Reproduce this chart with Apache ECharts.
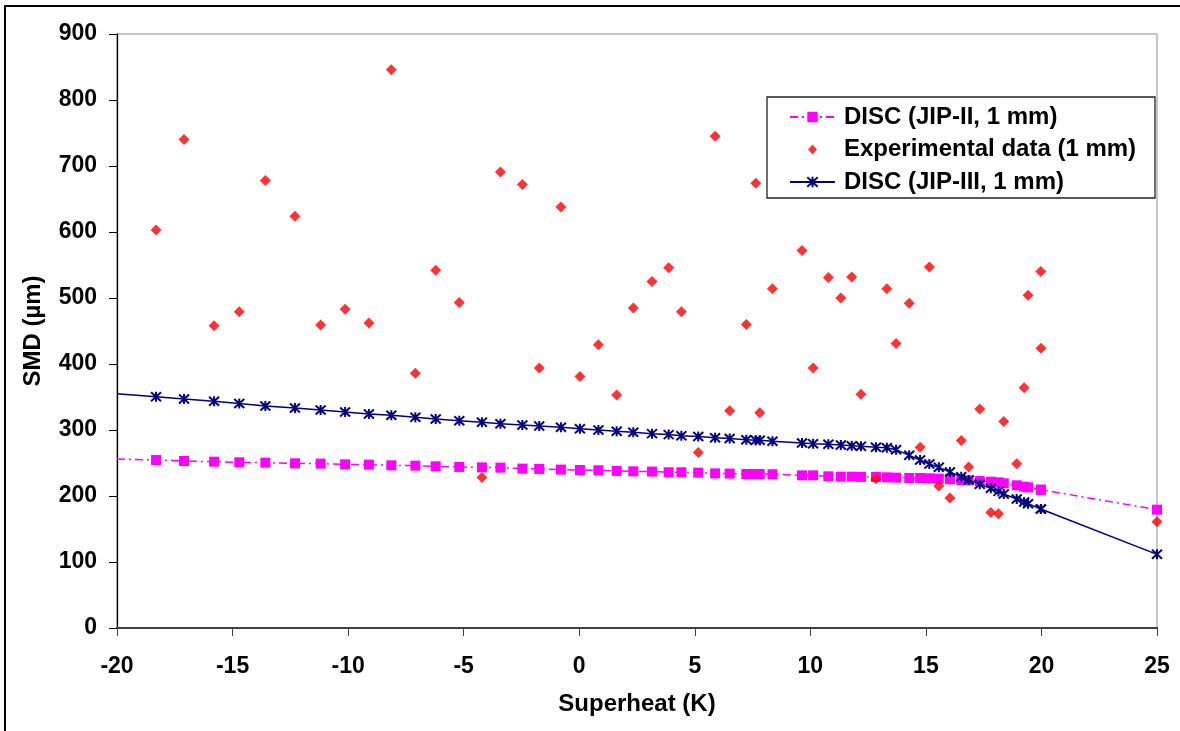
<!DOCTYPE html>
<html>
<head>
<meta charset="utf-8">
<script src="https://cdn.jsdelivr.net/npm/echarts@6/dist/echarts.min.js"></script>
<style>
html,body{margin:0;padding:0;background:#fff;}
#chart{width:1180px;height:731px;}
</style>
</head>
<body>
<div id="chart"></div>
<script>
// Superheat values (K) shared by the experimental points and model points
const superheat = [-18.31,-17.10,-15.80,-14.71,-13.58,-12.30,-11.19,-10.13,-9.10,-8.13,-7.09,-6.21,-5.19,-4.21,-3.41,-2.46,-1.73,-0.79,0.03,0.83,1.62,2.34,3.15,3.87,4.42,5.15,5.88,6.51,7.23,7.64,7.81,8.36,9.64,10.12,10.78,11.32,11.79,12.19,12.84,13.31,13.71,14.28,14.75,15.15,15.56,16.04,16.53,16.85,17.33,17.81,18.14,18.37,18.93,19.25,19.42,19.97,19.98,25];
// Experimental SMD (µm)
const expSMD = [603,740,458,479,678,624,459,483,462,846,386,542,493,228,691,672,394,638,381,429,353,485,525,546,479,266,745,329,460,674,326,514,572,394,531,500,532,354,226,514,431,492,274,547,215,197,284,244,332,175,173,313,249,364,504,540,424,161];
// DISC (JIP-II, 1 mm)
const jip2SMD = [254.5,253,252,251,250.5,249.5,249,248,247.5,246.5,246,245,244,243.4,243,241.5,241,240,239.4,239,238,237.4,237,236,236,235.4,234.3,234,233.3,233.3,233.3,233,231.3,231.3,229.8,229.3,229.3,229,228.8,228.3,227.8,227.3,227.3,226.8,226.3,225.3,224.2,223.7,222.7,221.7,220.7,219.2,216.2,214.1,213.1,209.6,209.5,179.3];
// DISC (JIP-III, 1 mm)
const jip3SMD = [350.5,347,343.4,340,336.4,333.3,330.3,327.3,324.2,322.2,319.2,316.7,314.1,311.6,309.6,307.6,306,304,302,300,298,296.5,294.5,293,291.4,290,288.4,287,285.4,284.4,284.4,283,280.3,279.3,278.3,277.3,276.3,275.3,273.7,273.2,270.2,261.6,254.5,248.5,243.4,236.4,229.3,224.2,217.7,211.6,207,203,195.5,191,188.4,180.3,180.2,111.6];
// Model lines begin at the left axis edge (no marker there)
const lineStartX = -20;
const jip2Start = 256;
const jip3Start = 355;

const seriesNames = ['DISC (JIP-II, 1 mm)', 'Experimental data (1 mm)', 'DISC (JIP-III, 1 mm)'];
const xTicks = [-20,-15,-10,-5,0,5,10,15,20,25];
const yTicks = [0,100,200,300,400,500,600,700,800,900];

const FONT = '"Liberation Sans", Arial, sans-serif';

function pairs(xs, ys){ return xs.map((x,i)=>[x, ys[i]]); }
function modelData(startY, ys){
  return [{value:[lineStartX,startY], symbol:'none'}].concat(pairs(superheat, ys));
}

const STAR = 'path://M5,0L5,10M0.5,0.5L9.5,9.5M0.5,9.5L9.5,0.5';

const chart = echarts.init(document.getElementById('chart'), null, {renderer:'canvas'});
chart.setOption({
  animation:false,
  backgroundColor:'#fff',
  textStyle:{fontFamily:FONT},
  grid:{left:117, right:23, top:34, bottom:103, show:true, borderColor:'#8c8c8c', borderWidth:1, backgroundColor:'transparent'},
  xAxis:{
    type:'value', min:xTicks[0], max:xTicks[xTicks.length-1], interval:5,
    name:'Superheat (K)', nameLocation:'middle', nameGap:64,
    nameTextStyle:{fontSize:24, fontWeight:'bold', color:'#000', fontFamily:FONT},
    axisLine:{show:true, onZero:false, lineStyle:{color:'#404040', width:2}},
    axisTick:{show:true, inside:false, length:8, lineStyle:{color:'#404040', width:1}},
    axisLabel:{margin:27, fontSize:23, fontWeight:'bold', color:'#000', fontFamily:FONT},
    splitLine:{show:false}
  },
  yAxis:{
    type:'value', min:yTicks[0], max:yTicks[yTicks.length-1], interval:100,
    name:'SMD (µm)', nameLocation:'middle', nameGap:72, nameRotate:90,
    nameTextStyle:{fontSize:24, fontWeight:'bold', color:'#000', fontFamily:FONT},
    axisLine:{show:true, onZero:false, lineStyle:{color:'#000', width:1.3}},
    axisTick:{show:true, inside:false, length:8, lineStyle:{color:'#000', width:1}},
    axisLabel:{margin:20, fontSize:23, fontWeight:'bold', color:'#000', fontFamily:FONT},
    splitLine:{show:false}
  },
  legend:{
    show:true, orient:'vertical', left:789, top:105, padding:0,
    itemWidth:45, itemHeight:13, itemGap:8.5,
    data:[
      {name:seriesNames[0]},
      {name:seriesNames[1], icon:'path://M0,0M45,13M22.5,1.5L27,6.5L22.5,11.5L18,6.5Z'},
      {name:seriesNames[2]}
    ],
    textStyle:{fontSize:24, fontWeight:'bold', color:'#000', fontFamily:FONT, lineHeight:24, padding:[0,0,0,4]}
  },
  graphic:[
    {type:'rect', shape:{x:767, y:97, width:388, height:101}, style:{fill:'none', stroke:'#222', lineWidth:1.3}, z:100},
    {type:'rect', shape:{x:5, y:6, width:1200, height:760}, style:{fill:'none', stroke:'#000', lineWidth:2}, z:100}
  ],
  series:[
    {
      name:seriesNames[0], type:'line', data:modelData(jip2Start, jip2SMD),
      symbol:'rect', symbolSize:10, showSymbol:true, clip:true,
      lineStyle:{color:'#ff00ff', width:1.5, type:[8,4,2,4]},
      itemStyle:{color:'#ff00ff'}, z:3
    },
    {
      name:seriesNames[1], type:'scatter', data:pairs(superheat, expSMD),
      symbol:'diamond', symbolSize:11,
      itemStyle:{color:'#ff0000'}, z:4
    },
    {
      name:seriesNames[2], type:'line', data:modelData(jip3Start, jip3SMD),
      symbol:STAR, symbolSize:10, showSymbol:true, clip:true,
      lineStyle:{color:'#000080', width:1.5},
      itemStyle:{color:'transparent', borderColor:'#000080', borderWidth:2}, z:5
    }
  ]
});
</script>
</body>
</html>
